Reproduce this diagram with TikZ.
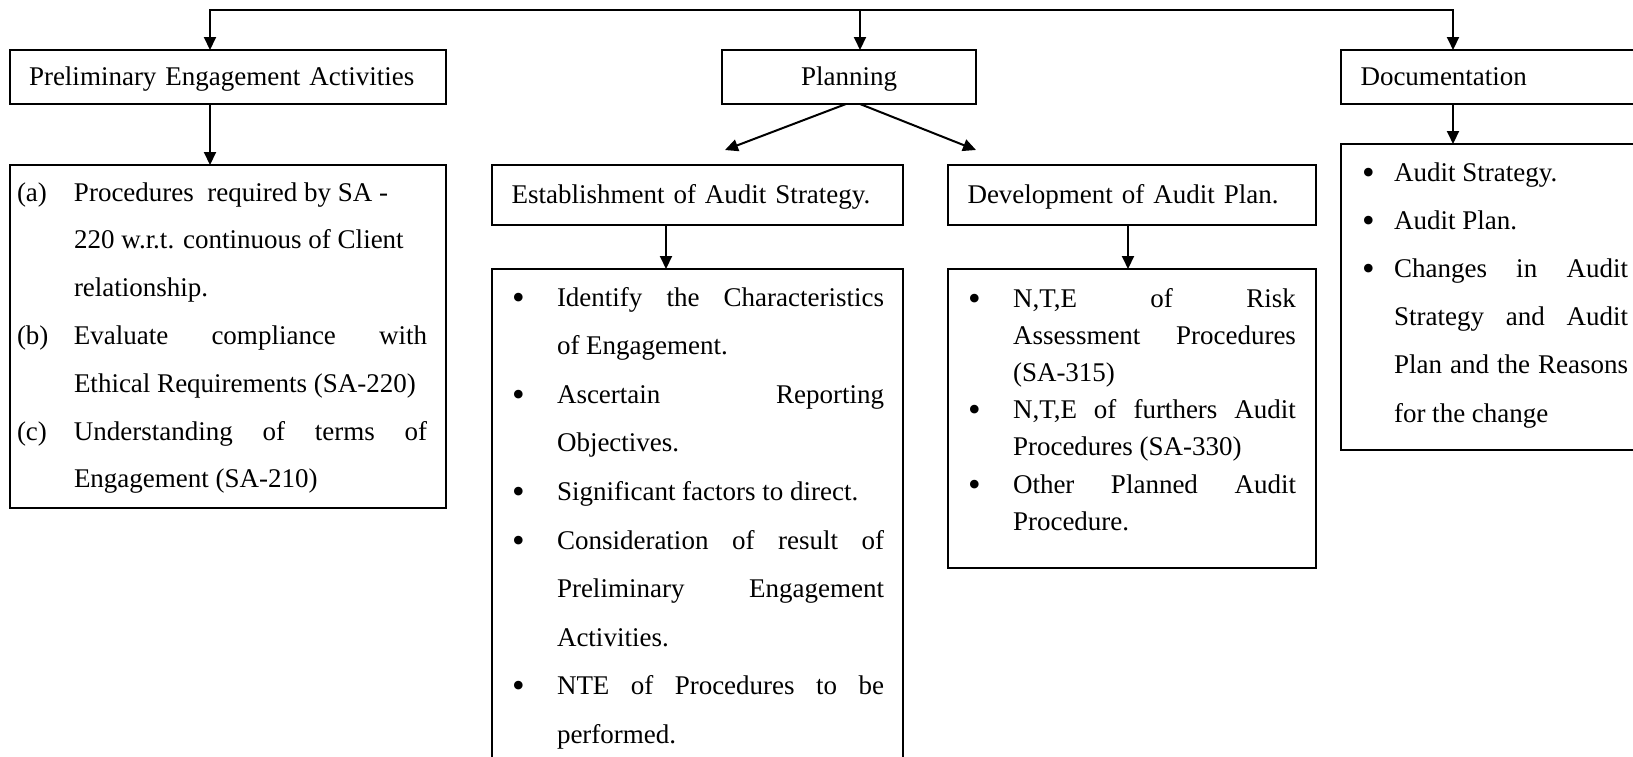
\documentclass[tikz,border=0pt]{standalone}
\usepackage{fontspec}
\setmainfont{Liberation Serif}
\usepackage{tikz}
\usetikzlibrary{positioning,arrows.meta,calc}
\definecolor{auditInk}{HTML}{000000}
\tolerance=10000
\hbadness=10000
\newlength{\entryhang}
\newcommand{\entry}[2]{\hangindent=\entryhang\hangafter=1 \makebox[\entryhang][l]{#1}#2\par}
\newcommand{\auditdot}{\raisebox{-3pt}{\fontsize{36pt}{36pt}\selectfont\textbullet}}
\tikzset{
  auditfont/.style={font=\fontsize{27pt}{32pt}\selectfont},
  headbox/.style={draw=auditInk,line width=2pt,anchor=north west,outer sep=0pt,
    inner xsep=19.5pt,inner ysep=0pt,align=left,minimum height=54pt,
    text height=21pt,text depth=5pt,auditfont},
  listbox/.style={draw=auditInk,line width=2pt,anchor=north west,outer sep=0pt,inner sep=0pt},
  listtext/.style={inner sep=0pt,outer sep=0pt,anchor=base west,text=auditInk,align=justify,
    font=\fontsize{27pt}{#1}\selectfont},
  auditarrow/.style={-{Triangle[length=13pt,width=12pt]},line width=2pt,draw=auditInk},
  auditbus/.style={{Triangle[length=13pt,width=12pt]}-{Triangle[length=13pt,width=12pt]},
    line width=2pt,draw=auditInk}
}

\begin{document}
\begin{tikzpicture}[x=1pt,y=-1pt]
  \path[use as bounding box,fill=white] (0,0) rectangle (1633,756);
  % headings
  \node[headbox,text width=397.5pt] (prelim) at (9.5,50) {Preliminary Engagement Activities};
  \node[headbox,text width=215pt,align=center] (planning) at (722,50) {Planning};
  \node[headbox,text width=300pt] (doc) at (1341,50) {Documentation};
  \node[headbox,text width=372pt,minimum height=60pt] (estab) at (492,165) {Establishment of Audit Strategy.};
  \node[headbox,text width=329pt,minimum height=60pt] (dev) at (948,165) {Development of Audit Plan.};
  % boxes for the lists
  \node[listbox,minimum width=436.5pt,minimum height=343pt] (prelist) at (9.5,165) {};
  \node[listbox,minimum width=411pt,minimum height=520pt] (estlist) at (492,269) {};
  \node[listbox,minimum width=368pt,minimum height=299pt] (devlist) at (948,269) {};
  \node[listbox,minimum width=339pt,minimum height=306pt] (doclist) at (1341,144) {};
  % list texts
  \node[listtext=47.8pt,text width=410pt] (pretext) at ([shift={(7.5,36)}]prelist.north west) {%
    \setlength{\entryhang}{57pt}%
    \entry{(a)}{Procedures\enskip required by SA -\newline 220 w.r.t. continuous of Client\newline relationship.}
    \entry{(b)}{Evaluate compliance with\linebreak Ethical Requirements (SA-220)}
    \entry{(c)}{Understanding of terms of\linebreak Engagement (SA-210)}};
  \node[listtext=48.6pt,text width=372pt] (esttext) at ([shift={(20,37)}]estlist.north west) {%
    \setlength{\entryhang}{45pt}%
    \entry{\auditdot}{Identify the Characteristics\linebreak of Engagement.}
    \entry{\auditdot}{Ascertain Reporting\linebreak Objectives.}
    \entry{\auditdot}{Significant factors to direct.}
    \entry{\auditdot}{Consideration of result of\linebreak Preliminary Engagement\linebreak Activities.}
    \entry{\auditdot}{NTE of Procedures to be\linebreak performed.}};
  \node[listtext=37.2pt,text width=328pt] (devtext) at ([shift={(20,38)}]devlist.north west) {%
    \setlength{\entryhang}{45pt}%
    \entry{\auditdot}{N,T,E of Risk\linebreak Assessment Procedures\linebreak (SA-315)}
    \entry{\auditdot}{N,T,E of furthers Audit\linebreak Procedures (SA-330)}
    \entry{\auditdot}{Other Planned Audit\linebreak Procedure.}};
  \node[listtext=48.2pt,text width=266pt] (doctext) at ([shift={(21,37)}]doclist.north west) {%
    \setlength{\entryhang}{32pt}%
    \entry{\auditdot}{Audit Strategy.}
    \entry{\auditdot}{Audit Plan.}
    \entry{\auditdot}{Changes in Audit\linebreak Strategy and Audit\linebreak Plan and the Reasons\linebreak for the change}};
  % connectors
  \coordinate (busleft) at (210,9.5);
  \coordinate (busmid) at (860,9.5);
  \coordinate (busright) at (1453,9.5);
  \coordinate (estabtip) at (725,150);
  \coordinate (devtip) at (976,150);
  \draw[auditbus] (busleft |- prelim.north) |- (busright) -- (busright |- doc.north);
  \draw[auditarrow] (busmid) -- (busmid |- planning.north);
  \draw[auditarrow] (busleft |- prelim.south) -- (busleft |- prelist.north);
  \draw[auditarrow] ([xshift=-3pt]planning.south) -- (estabtip);
  \draw[auditarrow] ([xshift=11pt]planning.south) -- (devtip);
  \draw[auditarrow] ([xshift=-31.5pt]estab.south) -- ([xshift=-31.5pt]estlist.north);
  \draw[auditarrow] ([xshift=-4pt]dev.south) -- ([xshift=-4pt]devlist.north);
  \draw[auditarrow] (busright |- doc.south) -- (busright |- doclist.north);
\end{tikzpicture}
\end{document}
